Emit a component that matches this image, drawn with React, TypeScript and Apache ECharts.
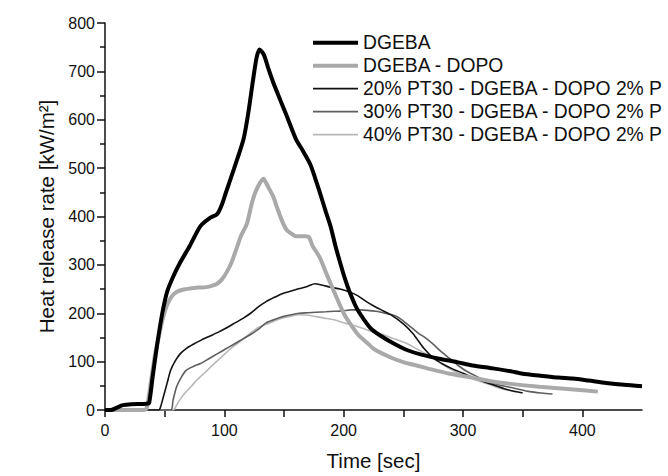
import React, { useEffect, useRef } from "react";
import * as echarts from "echarts";

const seriesNames = [
  "DGEBA",
  "DGEBA - DOPO",
  "20% PT30 - DGEBA - DOPO 2% P",
  "30% PT30 - DGEBA - DOPO 2% P",
  "40% PT30 - DGEBA - DOPO 2% P",
];

const dgebaTime = [0, 5, 10, 15, 22, 35, 37, 40, 44, 48, 52, 57, 63, 71, 80, 88, 94, 98, 101, 108, 116, 120, 124, 127, 129.5, 133, 137, 141, 147, 152, 160, 166, 172, 176, 180, 185, 189, 193, 197, 201, 205, 211, 217, 223, 230, 240, 253, 266, 280, 295, 308, 325, 340, 350, 365, 380, 392, 405, 420, 435, 450];
const dgebaHrr = [0, 0, 5, 10, 12, 13, 15, 70, 140, 200, 244, 275, 305, 339, 380, 397, 405, 425, 447, 498, 559, 613, 681, 728, 745, 735, 705, 677, 640, 610, 560, 535, 508, 480, 450, 410, 380, 340, 305, 272, 244, 210, 187, 168, 155, 140, 124, 114, 106, 99, 92, 86, 80, 75, 71, 67, 65, 61, 56, 52, 49];

const dopoTime = [0, 33, 35, 38, 42, 45, 48, 52, 56, 60, 66, 71, 78, 85, 90, 94, 98, 102, 106, 110, 114, 119, 123, 126, 130, 133, 134, 137, 141, 144, 148, 152, 156, 160, 164, 168, 171, 174, 180, 185, 191, 200, 205, 212, 220, 226, 240, 250, 261, 275, 289, 305, 322, 340, 364, 390, 413];
const dopoHrr = [0, 0, 4, 50, 116, 150, 185, 217, 235, 244, 249, 251, 253, 254, 257, 261, 270, 285, 305, 332, 360, 386, 427, 450, 470, 478, 474, 460, 441, 420, 393, 373, 365, 359, 359, 359, 357, 339, 315, 285, 250, 200, 180, 156, 138, 125, 108, 99, 92, 83, 75, 68, 60, 54, 48, 43, 38];

const pt20Time = [0, 45, 47, 49, 52, 55, 59, 63, 68, 74, 81, 88, 95, 102, 109, 116, 122, 129, 135, 142, 149, 156, 163, 170, 176, 182, 189, 197, 205, 212, 219, 226, 233, 240, 250, 258, 267, 275, 283, 292, 300, 311, 323, 336, 350];
const pt20Hrr = [0, 0, 10, 28, 55, 82, 102, 116, 127, 136, 145, 153, 161, 170, 180, 190, 200, 214, 224, 233, 241, 246, 251, 256, 261, 258, 254, 250, 244, 236, 224, 214, 205, 196, 178, 158, 128, 108, 95, 84, 76, 64, 54, 43, 35];

const pt30Time = [0, 55, 57, 60, 64, 68, 74, 80, 87, 94, 101, 108, 115, 122, 128, 135, 142, 149, 156, 163, 170, 177, 185, 192, 199, 206, 213, 220, 227, 233, 239, 244, 248, 253, 258, 263, 268, 275, 282, 289, 296, 303, 311, 320, 331, 343, 356, 366, 375];
const pt30Hrr = [0, 0, 20, 48, 68, 82, 90, 96, 106, 116, 126, 136, 146, 156, 166, 180, 187, 193, 197, 200, 201, 202, 203, 204, 205, 207, 207, 206, 204, 201, 198, 194, 188, 178, 168, 158, 150, 136, 120, 106, 92, 80, 70, 60, 51, 45, 38, 35, 33];

const pt40Time = [0, 57, 60, 63, 67, 72, 77, 84, 91, 97, 103, 109, 115, 121, 128, 135, 142, 149, 156, 163, 170, 177, 184, 191, 198, 205, 212, 219, 226, 233, 240, 247, 255, 262, 269, 276, 283, 289, 296, 304, 311, 318, 325, 331, 338, 345];
const pt40Hrr = [0, 0, 10, 22, 35, 48, 62, 78, 95, 108, 122, 134, 145, 157, 170, 177, 184, 190, 194, 197, 196, 193, 190, 187, 182, 177, 172, 166, 160, 156, 149, 143, 135, 125, 116, 105, 94, 85, 76, 68, 62, 56, 50, 45, 41, 37];

const xTickValues = [0, 100, 200, 300, 400];

const FONT = "'Liberation Sans', Arial, sans-serif";

function pairs(t: number[], v: number[]) {
  return t.map((x, i) => [x, v[i]]);
}

export default function App() {
  const ref = useRef<HTMLDivElement>(null);
  useEffect(() => {
    if (!ref.current) return;
    const chart = echarts.init(ref.current, undefined, { renderer: "svg" });
    const lineSeries = (name: string, t: number[], v: number[], color: string, width: number, z: number) => ({
      name,
      type: "line",
      data: pairs(t, v),
      showSymbol: false,
      symbol: "none",
      smooth: 0.25,
      z,
      lineStyle: { color, width },
      itemStyle: { color },
    });
    const legendText = { fontSize: 19.3, color: "#111", fontFamily: FONT, lineHeight: 20 };
    chart.setOption({
      animation: false,
      backgroundColor: "#ffffff",
      textStyle: { fontFamily: FONT },
      grid: { left: 105, right: 26, top: 23, bottom: 59, containLabel: false },
      legend: [
        {
          orient: "vertical",
          left: 313,
          top: 32.7,
          padding: 0,
          icon: "rect",
          itemWidth: 45,
          itemHeight: 4,
          itemGap: 3,
          data: seriesNames.slice(0, 2),
          textStyle: legendText,
        },
        {
          orient: "vertical",
          left: 313,
          top: 78.6,
          padding: 0,
          icon: "rect",
          itemWidth: 45,
          itemHeight: 1.6,
          itemGap: 3,
          data: seriesNames.slice(2),
          textStyle: legendText,
        },
      ],
      xAxis: {
        type: "value",
        min: 0,
        max: 450,
        interval: 50,
        name: "Time [sec]",
        nameLocation: "middle",
        nameGap: 40,
        nameTextStyle: { fontSize: 20.5, color: "#111", fontFamily: FONT },
        splitLine: { show: false },
        axisLine: { lineStyle: { color: "#111", width: 1.5 } },
        axisTick: { length: 7, lineStyle: { color: "#111", width: 1.5 } },
        axisLabel: {
          fontSize: 16,
          color: "#111",
          margin: 12,
          showMaxLabel: false,
          formatter: (v: number) => (xTickValues.includes(v) ? String(v) : ""),
        },
      },
      yAxis: {
        type: "value",
        min: 0,
        max: 800,
        interval: 100,
        name: "Heat release rate [kW/m²]",
        nameLocation: "middle",
        nameGap: 29,
        nameTextStyle: { fontSize: 20.5, color: "#111", fontFamily: FONT },
        splitLine: { show: false },
        axisLine: { show: true, lineStyle: { color: "#111", width: 1.5 } },
        axisTick: { show: true, length: 8, lineStyle: { color: "#111", width: 1.5 } },
        minorTick: { show: true, splitNumber: 2, length: 5, lineStyle: { color: "#111", width: 1.5 } },
        axisLabel: { fontSize: 16, color: "#111", margin: 10 },
      },
      series: [
        lineSeries(seriesNames[4], pt40Time, pt40Hrr, "#b8b8b8", 1.6, 2),
        lineSeries(seriesNames[3], pt30Time, pt30Hrr, "#5e5e5e", 1.6, 3),
        lineSeries(seriesNames[2], pt20Time, pt20Hrr, "#111111", 1.6, 4),
        lineSeries(seriesNames[1], dopoTime, dopoHrr, "#a9a9a9", 4, 5),
        lineSeries(seriesNames[0], dgebaTime, dgebaHrr, "#000000", 4, 6),
      ],
    });
    return () => chart.dispose();
  }, []);
  return (
    <div
      ref={ref}
      style={{ position: "fixed", left: 0, top: 0, width: 668, height: 476, background: "#fff" }}
    />
  );
}
